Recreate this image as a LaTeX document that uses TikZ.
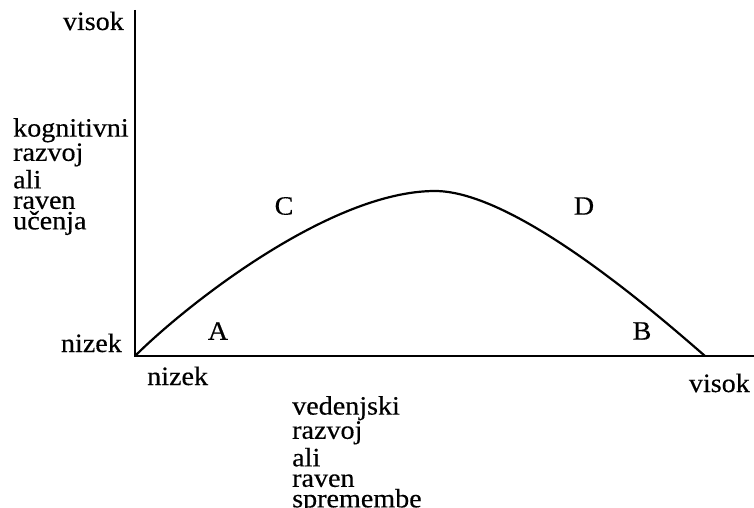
\documentclass[tikz,border=0pt]{standalone}
\usepackage{fontspec}
\setmainfont{Liberation Serif}[FakeStretch=1.06, FakeBold=0.4]
\usetikzlibrary{positioning}

\begin{document}
\begin{tikzpicture}[
  x=1pt, y=-1pt,
  every node/.style={font=\fontsize{26.5}{20.5}\selectfont, inner sep=0pt},
  axis/.style={line width=1.2pt},
  curve/.style={line width=2.2pt, line join=round},
  endlbl/.style={anchor=base east},
  startlbl/.style={anchor=base west},
  blk/.style={align=left, anchor=north west},
]
\useasboundingbox (0,0) rectangle (754,508);

% axes
\coordinate (o) at (135,356);
\coordinate (ytop) at (135,10);
\coordinate (xend) at (754,356);
\draw[axis] (ytop) -- (o) -- (xend);

% the curve
\coordinate (peak) at (435,191);
\coordinate (xzero) at (705,356);
\draw[curve] (o) .. controls +(50,-50) and +(-105,0) .. (peak)
             .. controls +(80,0) and +(-50,-43.5) .. (xzero);

% axis labels
\node[endlbl] (yhigh) at (124,30) {visok};
\node[endlbl] (ylow) at (122,352) {nizek};
\node[startlbl] (xlow) at (147,385) {nizek};
\node[endlbl] (xhigh) at (750,392) {visok};
\node[blk] (ytitle) at (13,118) {kognitivni\\razvoj\\[2.5pt]ali\\raven\\učenja};
\node[blk] (xtitle) at (292,396) {vedenjski\\razvoj\\[2.5pt]ali\\raven\\spremembe};

% regions
\node (ptA) at (218,331) {A};
\node (ptB) at (642,331) {B};
\node (ptC) at (284,206) {C};
\node (ptD) at (584,206) {D};
\end{tikzpicture}
\end{document}
